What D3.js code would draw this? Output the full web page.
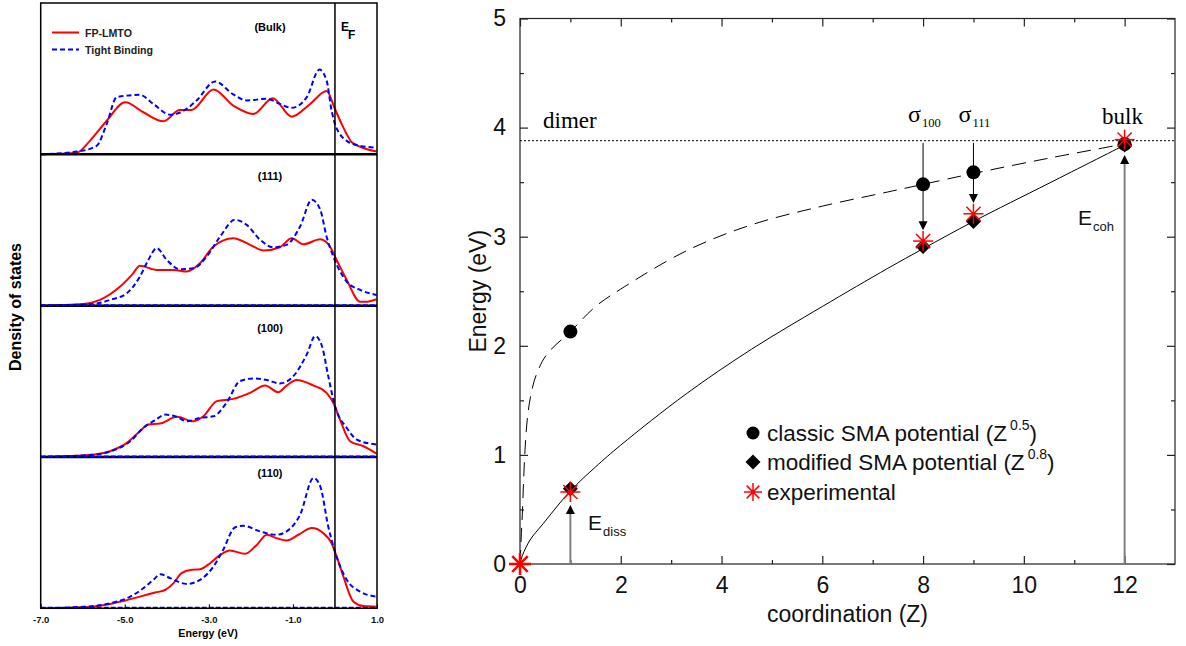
<!DOCTYPE html>
<html>
<head>
<meta charset="utf-8">
<script src="https://cdn.jsdelivr.net/npm/d3@7"></script>
<style>
  html, body { margin: 0; padding: 0; background: #fff; }
  svg { display: block; }
</style>
</head>
<body>
<svg id="fig" width="1186" height="646"></svg>
<script>
// ---------- Density of states panels: [energy (eV), DOS (arb. units)] ----------
const panelLabels = ["(Bulk)", "(111)", "(100)", "(110)"];
const dosTicks = [-7, -5, -3, -1, 1];

const fpBulk = [[-7,0],[-6.14,0.011],[-5.83,0.089],[-5.43,0.222],[-4.99,0.344],[-4.56,0.278],[-4.08,0.218],[-3.69,0.293],[-3.41,0.293],[-2.89,0.429],[-2.42,0.322],[-1.94,0.267],[-1.48,0.371],[-1.03,0.249],[-0.59,0.333],[-0.2,0.418],[0.0,0.30],[0.16,0.20],[0.28,0.133],[0.4,0.08],[0.6,0.05],[0.99,0.018]];
const tbBulk = [[-7,0],[-6.14,0.018],[-5.67,0.056],[-5.43,0.2],[-5.19,0.378],[-4.64,0.393],[-4.32,0.333],[-3.92,0.262],[-3.53,0.3],[-3.29,0.356],[-2.85,0.482],[-2.42,0.396],[-2.1,0.356],[-1.62,0.367],[-1.31,0.333],[-1.03,0.307],[-0.67,0.378],[-0.37,0.56],[-0.2,0.489],[-0.08,0.289],[0.0,0.2],[0.12,0.133],[0.28,0.089],[0.6,0.056],[0.99,0.044]];

const fp111 = [[-7,0],[-5.99,0.011],[-5.59,0.038],[-5.11,0.126],[-4.83,0.203],[-4.64,0.263],[-4.24,0.236],[-3.84,0.236],[-3.53,0.225],[-3.21,0.28],[-2.89,0.391],[-2.42,0.446],[-2.02,0.402],[-1.7,0.364],[-1.31,0.386],[-1.03,0.446],[-0.75,0.406],[-0.35,0.439],[-0.12,0.391],[0.04,0.302],[0.28,0.17],[0.6,0.026],[0.76,0.026],[0.99,0.042]];
const tb111 = [[-7,0],[-5.75,0.011],[-5.35,0.038],[-4.95,0.082],[-4.64,0.192],[-4.44,0.302],[-4.24,0.38],[-4.0,0.302],[-3.69,0.241],[-3.37,0.247],[-3.05,0.325],[-2.73,0.457],[-2.38,0.567],[-2.1,0.534],[-1.78,0.435],[-1.47,0.386],[-1.15,0.402],[-0.83,0.523],[-0.55,0.70],[-0.35,0.634],[-0.2,0.457],[-0.04,0.325],[0.28,0.159],[0.6,0.104],[0.99,0.071]];

const fp100 = [[-7,0],[-5.75,0.015],[-5.35,0.038],[-4.95,0.093],[-4.64,0.17],[-4.44,0.214],[-4.16,0.221],[-3.76,0.265],[-3.37,0.236],[-3.13,0.269],[-2.81,0.369],[-2.42,0.384],[-2.02,0.424],[-1.66,0.472],[-1.35,0.428],[-1.15,0.472],[-0.91,0.508],[-0.51,0.472],[-0.2,0.424],[-0.04,0.358],[0.12,0.247],[0.36,0.104],[0.68,0.071],[0.99,0.022]];
const tb100 = [[-7,0],[-5.75,0.015],[-5.27,0.044],[-4.87,0.104],[-4.56,0.192],[-4.28,0.243],[-4.04,0.28],[-3.76,0.265],[-3.53,0.236],[-3.21,0.258],[-2.89,0.269],[-2.58,0.358],[-2.26,0.501],[-1.94,0.519],[-1.62,0.508],[-1.31,0.486],[-0.99,0.534],[-0.67,0.678],[-0.47,0.799],[-0.31,0.733],[-0.16,0.534],[0.0,0.336],[0.28,0.192],[0.52,0.115],[0.99,0.082]];

const fp110 = [[-7,0],[-5.75,0.011],[-5.35,0.029],[-4.99,0.051],[-4.64,0.077],[-4.28,0.104],[-4.04,0.121],[-3.84,0.166],[-3.65,0.232],[-3.41,0.254],[-3.21,0.258],[-2.97,0.298],[-2.73,0.353],[-2.5,0.382],[-2.14,0.36],[-1.86,0.419],[-1.62,0.486],[-1.39,0.464],[-1.15,0.448],[-0.87,0.486],[-0.55,0.53],[-0.28,0.497],[-0.08,0.43],[0.04,0.342],[0.2,0.21],[0.44,0.044],[0.68,0.015],[0.99,0.011]];
const tb110 = [[-7,0],[-5.75,0.015],[-5.27,0.038],[-4.87,0.077],[-4.56,0.132],[-4.32,0.188],[-4.15,0.225],[-3.92,0.199],[-3.53,0.161],[-3.21,0.188],[-2.89,0.276],[-2.66,0.386],[-2.38,0.534],[-2.18,0.545],[-1.78,0.508],[-1.39,0.486],[-1.15,0.508],[-0.83,0.618],[-0.51,0.861],[-0.35,0.806],[-0.16,0.541],[0.0,0.375],[0.28,0.188],[0.6,0.11],[0.99,0.077]];

const fpSeries = [fpBulk, fp111, fp100, fp110];
const tbSeries = [tbBulk, tb111, tb100, tb110];

// ---------- Energy vs coordination ----------
const coordTicksMajor = [0, 2, 4, 6, 8, 10, 12];
const energyTicksMajor = [0, 1, 2, 3, 4, 5];

const classicZ = [1, 8, 9, 12];
const classicE = [2.13, 3.48, 3.59, 3.85];
const modifiedZ = [1, 8, 9, 12];
const modifiedE = [0.69, 2.91, 3.14, 3.84];
const exptZ = [0, 1, 8, 9, 12];
const exptE = [0, 0.66, 2.96, 3.21, 3.89];

// Fitted curves (Z, E)
const classicCurve = [[0,0],[0.03,0.3],[0.05,0.5],[0.07,0.75],[0.1,1.05],[0.15,1.35],[0.22,1.56],[0.32,1.73],[0.53,1.92],[1,2.13],[1.5,2.36],[2,2.52],[3.3,2.87],[4.6,3.11],[6,3.28],[7.3,3.41],[8,3.48],[9,3.58],[10.5,3.72],[12,3.85]];
const modifiedCurve = [[0,0],[0.05,0.08],[0.2,0.22],[0.46,0.37],[1,0.67],[1.5,0.89],[2,1.09],[3.3,1.56],[4.6,1.97],[6,2.36],[7.3,2.71],[8,2.89],[9,3.14],[10.5,3.49],[12,3.84]];

const dimerEnergy = 3.88;
// Arrows: coordination, start energy, tip energy
const surfaceArrows = [[8, 3.86, 3.06], [9, 3.86, 3.31]];
const energyArrows = [[12, 0, 3.75], [1, 0, 0.54]];

const svg = d3.select("#fig");
svg.append("rect").attr("width", 1186).attr("height", 646).attr("fill", "#fff");

// ================= Left figure: DOS =================
const L = { x0: 40.7, x1: 377, top: 3, bottom: 608.3 };
const panelH = (L.bottom - L.top) / 4;
const xE = d3.scaleLinear().domain([-7, 1]).range([L.x0, L.x1]);
const left = svg.append("g").attr("font-family", "Liberation Sans, Arial, sans-serif").attr("font-weight", "bold");

svg.append("defs").append("clipPath").attr("id", "dosclip")
  .append("rect").attr("x", L.x0).attr("y", L.top).attr("width", L.x1 - L.x0).attr("height", L.bottom - L.top);

panelLabels.forEach((lab, i) => {
  const pTop = L.top + i * panelH, pBot = pTop + panelH;
  const yD = d3.scaleLinear().domain([0, 1]).range([pBot, pTop]);
  const line = d3.line().x(d => xE(d[0])).y(d => yD(d[1])).curve(d3.curveMonotoneX);
  const g = left.append("g").attr("clip-path", "url(#dosclip)");
  g.append("path").attr("d", line(fpSeries[i])).attr("fill", "none")
    .attr("stroke", "#ff0000").attr("stroke-width", 2);
  g.append("path").attr("d", line(tbSeries[i])).attr("fill", "none")
    .attr("stroke", "#0000ff").attr("stroke-width", 2).attr("stroke-dasharray", "5,3");
  left.append("text").attr("x", 270).attr("y", pTop + [28, 26, 26, 20][i])
    .attr("text-anchor", "middle").attr("font-size", 11).text(lab);
});

// panel separators
for (let i = 1; i < 4; i++) {
  const yy = L.top + i * panelH;
  left.append("line").attr("x1", L.x0).attr("x2", L.x1).attr("y1", yy).attr("y2", yy)
    .attr("stroke", "#000").attr("stroke-width", 2.5);
}
// zero line of the tight-binding curves along the lower panels
for (let i = 1; i < 4; i++) {
  const yy = L.top + (i + 1) * panelH;
  left.append("line").attr("x1", L.x0).attr("x2", L.x1).attr("y1", yy - 0.5).attr("y2", yy - 0.5)
    .attr("stroke", "#0000ff").attr("stroke-width", 2).attr("stroke-dasharray", "5,2");
}
// outer frame
left.append("rect").attr("x", L.x0).attr("y", L.top).attr("width", L.x1 - L.x0).attr("height", L.bottom - L.top)
  .attr("fill", "none").attr("stroke", "#000").attr("stroke-width", 1.5);
// Fermi level
left.append("line").attr("x1", xE(0)).attr("x2", xE(0)).attr("y1", L.top).attr("y2", L.bottom)
  .attr("stroke", "#000").attr("stroke-width", 1.5);
const ef = left.append("text").attr("x", xE(0) + 6).attr("y", 31).attr("font-size", 12);
ef.append("tspan").text("E");
ef.append("tspan").attr("dx", -1).attr("dy", 7.5).text("F");

// legend
left.append("line").attr("x1", 52).attr("x2", 79).attr("y1", 32.5).attr("y2", 32.5)
  .attr("stroke", "#ff0000").attr("stroke-width", 2);
left.append("line").attr("x1", 52).attr("x2", 79).attr("y1", 49.5).attr("y2", 49.5)
  .attr("stroke", "#0000ff").attr("stroke-width", 2).attr("stroke-dasharray", "5,3");
left.append("text").attr("x", 85).attr("y", 37).attr("font-size", 10.6).attr("fill", "#222").text("FP-LMTO");
left.append("text").attr("x", 85).attr("y", 53.5).attr("font-size", 10.6).attr("fill", "#222").text("Tight Binding");

// energy axis
const dosAxis = d3.axisBottom(xE).tickValues(dosTicks).tickSize(-4).tickPadding(8)
  .tickFormat(d => d.toFixed(1));
const ga = left.append("g").attr("transform", `translate(0,${L.bottom})`).call(dosAxis);
ga.select(".domain").remove();
ga.selectAll(".tick line").attr("stroke", "#000").attr("stroke-width", 1);
ga.selectAll(".tick text").attr("font-family", "Liberation Sans, Arial, sans-serif")
  .attr("font-weight", "bold").attr("font-size", 9.5).attr("fill", "#111");
left.append("text").attr("x", 208).attr("y", 637).attr("text-anchor", "middle")
  .attr("font-size", 10.7).text("Energy (eV)");
left.append("text").attr("transform", "translate(21,307) rotate(-90)").attr("text-anchor", "middle")
  .attr("font-size", 16).text("Density of states");

// ================= Right figure: energy vs coordination =================
const x = d3.scaleLinear().domain([0, 13]).range([520, 1175]);
const y = d3.scaleLinear().domain([0, 5]).range([564, 18.5]);
const right = svg.append("g").attr("font-family", "Liberation Sans, Arial, sans-serif");

// frame
right.append("rect").attr("x", x(0)).attr("y", y(5)).attr("width", x(13) - x(0)).attr("height", y(0) - y(5))
  .attr("fill", "none").attr("stroke", "#222").attr("stroke-width", 1.2);

// ticks (inward on all four sides)
const minorZ = d3.range(1, 13, 2);
const minorE = [0.5, 1.5, 2.5, 3.5, 4.5];
function addAxis(gen, tr) {
  const g = right.append("g").attr("transform", tr).call(gen);
  g.select(".domain").remove();
  g.selectAll(".tick line").attr("stroke", "#222").attr("stroke-width", 1.2);
  g.selectAll(".tick text").attr("font-family", "Liberation Sans, Arial, sans-serif")
    .attr("font-size", 23).attr("fill", "#111");
  return g;
}
addAxis(d3.axisBottom(x).tickValues(coordTicksMajor).tickSize(-8).tickPadding(13).tickFormat(d3.format("d")), `translate(0,${y(0)})`);
addAxis(d3.axisBottom(x).tickValues(minorZ).tickSize(-4).tickFormat(""), `translate(0,${y(0)})`);
addAxis(d3.axisTop(x).tickValues(coordTicksMajor).tickSize(-8).tickFormat(""), `translate(0,${y(5)})`);
addAxis(d3.axisTop(x).tickValues(minorZ).tickSize(-4).tickFormat(""), `translate(0,${y(5)})`);
addAxis(d3.axisLeft(y).tickValues(energyTicksMajor).tickSize(-8).tickPadding(14).tickFormat(d3.format("d")), `translate(${x(0)},0)`);
addAxis(d3.axisLeft(y).tickValues(minorE).tickSize(-4).tickFormat(""), `translate(${x(0)},0)`);
addAxis(d3.axisRight(y).tickValues(energyTicksMajor).tickSize(-8).tickFormat(""), `translate(${x(13)},0)`);
addAxis(d3.axisRight(y).tickValues(minorE).tickSize(-4).tickFormat(""), `translate(${x(13)},0)`);

right.append("text").attr("x", (x(0) + x(13)) / 2).attr("y", 622).attr("text-anchor", "middle")
  .attr("font-size", 23).attr("fill", "#111").text("coordination (Z)");
right.append("text").attr("transform", `translate(486,${(y(0) + y(5)) / 2}) rotate(-90)`)
  .attr("text-anchor", "middle").attr("font-size", 23).attr("fill", "#111").text("Energy (eV)");

// dimer reference line
right.append("line").attr("x1", x(0)).attr("x2", x(13)).attr("y1", y(dimerEnergy)).attr("y2", y(dimerEnergy))
  .attr("stroke", "#000").attr("stroke-width", 1).attr("stroke-dasharray", "2,2");

// fitted curves
const cl = d3.line().x(d => x(d[0])).y(d => y(d[1])).curve(d3.curveCatmullRom.alpha(0.5));
right.append("path").attr("d", cl(classicCurve)).attr("fill", "none").attr("stroke", "#000")
  .attr("stroke-width", 1).attr("stroke-dasharray", "14,8");
right.append("path").attr("d", cl(modifiedCurve)).attr("fill", "none").attr("stroke", "#000")
  .attr("stroke-width", 1);

// arrows
function arrowHead(cx, tipY, dir, w, h) {
  // dir = +1 pointing down, -1 pointing up
  return `M${cx},${tipY} L${cx - w / 2},${tipY - dir * h} L${cx + w / 2},${tipY - dir * h} Z`;
}
surfaceArrows.forEach(([z, e0, e1]) => {
  right.append("line").attr("x1", x(z)).attr("x2", x(z)).attr("y1", y(e0)).attr("y2", y(e1) - 8)
    .attr("stroke", "#000").attr("stroke-width", 1);
  right.append("path").attr("d", arrowHead(x(z), y(e1), 1, 9, 9)).attr("fill", "#000");
});
energyArrows.forEach(([z, e0, e1]) => {
  right.append("line").attr("x1", x(z)).attr("x2", x(z)).attr("y1", y(e0)).attr("y2", y(e1) + 8)
    .attr("stroke", "#808080").attr("stroke-width", 2);
  right.append("path").attr("d", arrowHead(x(z), y(e1), -1, 9, 9)).attr("fill", "#000");
});

// markers
function star(g, cx, cy, r, w) {
  const s = g.append("g").attr("stroke", "#ff0000").attr("stroke-width", w);
  [0, 45, 90, 135].forEach(a => {
    const t = a * Math.PI / 180;
    s.append("line").attr("x1", cx - r * Math.cos(t)).attr("y1", cy - r * Math.sin(t))
      .attr("x2", cx + r * Math.cos(t)).attr("y2", cy + r * Math.sin(t));
  });
  g.append("circle").attr("cx", cx).attr("cy", cy).attr("r", 2).attr("fill", "#ff0000");
}
const diamond = (cx, cy, r) => `M${cx},${cy - r} L${cx + r},${cy} L${cx},${cy + r} L${cx - r},${cy} Z`;

classicZ.forEach((z, i) => right.append("circle").attr("cx", x(z)).attr("cy", y(classicE[i])).attr("r", 7).attr("fill", "#000"));
modifiedZ.forEach((z, i) => right.append("path").attr("d", diamond(x(z), y(modifiedE[i]), 7.5)).attr("fill", "#000"));
exptZ.forEach((z, i) => star(right, x(z), y(exptE[i]), z === 0 ? 11 : 10, z === 0 ? 2.5 : 1.5));

// annotation labels
const serif = "Liberation Serif, Times New Roman, serif";
right.append("text").attr("x", 543).attr("y", 128).attr("font-family", serif).attr("font-size", 23).text("dimer");
right.append("text").attr("x", 1102).attr("y", 124).attr("font-family", serif).attr("font-size", 23).text("bulk");
[["100", 8], ["111", 9]].forEach(([sub, z]) => {
  const t = right.append("text").attr("x", x(z) - 15).attr("y", 122).attr("font-family", serif).attr("font-size", 24);
  t.append("tspan").text("σ");
  t.append("tspan").attr("font-size", 12.5).attr("dy", 4.5).attr("dx", 1).text(sub);
});
function subLabel(xx, yy, main, sub) {
  const t = right.append("text").attr("x", xx).attr("y", yy).attr("font-size", 21).attr("fill", "#111");
  t.append("tspan").text(main);
  t.append("tspan").attr("font-size", 13).attr("dy", 6).attr("dx", 1).text(sub);
}
subLabel(1078, 225, "E", "coh");
subLabel(588, 530, "E", "diss");

// legend
const lgX = 753, lgT = 767;
const rows = [[433, "classic SMA potential (Z", "0.5"], [462, "modified SMA potential (Z", "0.8"], [492, "experimental", null]];
right.append("circle").attr("cx", lgX).attr("cy", rows[0][0]).attr("r", 6.5).attr("fill", "#000");
right.append("path").attr("d", diamond(lgX, rows[1][0], 7.5)).attr("fill", "#000");
star(right, lgX, rows[2][0], 9, 1.5);
rows.forEach(([cy, txt, sup]) => {
  const t = right.append("text").attr("x", lgT).attr("y", cy + 8).attr("font-size", 22.5).attr("fill", "#111");
  t.append("tspan").text(txt);
  if (sup) {
    t.append("tspan").attr("font-size", 14).attr("dy", -11).attr("dx", 3).text(sup);
    t.append("tspan").attr("dy", 11).text(")");
  }
});
</script>
</body>
</html>
